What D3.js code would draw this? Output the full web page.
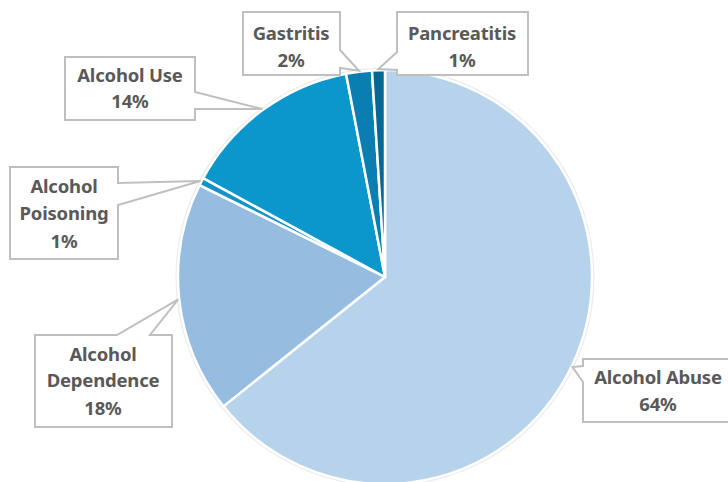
<!DOCTYPE html>
<html>
<head>
<meta charset="utf-8">
<script src="https://cdn.jsdelivr.net/npm/d3@7"></script>
<style>
  body { margin: 0; background: #fff; }
  text { font-family: "Noto Sans", sans-serif; font-weight: bold; fill: #595959; }
</style>
</head>
<body>
<div class="canvas"></div>
<script>
// slices clockwise from 12 o'clock
const categories = ["Alcohol Abuse", "Alcohol Dependence", "Alcohol Poisoning", "Alcohol Use", "Gastritis", "Pancreatitis"];
const values = [64, 18, 0.6, 14, 2, 1];
const colors = ["#b6d3eb", "#96bde0", "#1392c6", "#0b97cb", "#0a7eb0", "#086892"];
const labelLines = [["Alcohol Abuse"], ["Alcohol", "Dependence"], ["Alcohol", "Poisoning"], ["Alcohol Use"], ["Gastritis"], ["Pancreatitis"]];

let dim = { width: 728, height: 482 };
let svg = d3.select(".canvas").append("svg").attr("width", dim.width).attr("height", dim.height);

const cx = 385, cy = 277, r = 207;
let graph = svg.append("g").attr("transform", `translate(${cx},${cy})`);

const total = d3.sum(values);
const data = categories.map((c, i) => ({ name: c, value: values[i], color: colors[i], lines: labelLines[i] }));

const pie = d3.pie().value(d => d.value).sort(null);
const arc = d3.arc().innerRadius(0).outerRadius(r);
const arcs = pie(data);

// faint halo around the pie
graph.append("circle").attr("r", r + 1.5).attr("fill", "none").attr("stroke", "#ececec").attr("stroke-width", 2);

graph.selectAll(".slice").data(arcs).enter().append("path")
  .attr("class", "slice")
  .attr("d", arc)
  .attr("fill", d => d.data.color)
  .attr("stroke", "#fff")
  .attr("stroke-width", 2.5)
  .attr("stroke-linejoin", "round");

// callout boxes: [x, y, w, h], side the pointer leaves from, pointer base span
const boxes = [
  { box: [583, 359, 152, 63], side: "left", span: [366, 382], tx: 658, base: [384, 411] },
  { box: [35, 335, 137, 92], side: "top", span: [117, 150], tx: 103, base: [361, 387, 415] },
  { box: [10, 167, 108, 92], side: "right", span: [183, 205], tx: 64, base: [193, 220, 248] },
  { box: [65, 57, 130, 63], side: "right", span: [92, 109], tx: 130, base: [82, 108] },
  { box: [243, 12, 97, 63], side: "right", span: [50, 68], tx: 291, base: [40, 67] },
  { box: [397, 12, 131, 63], side: "left", span: [52, 70], tx: 462, base: [40, 67] }
];

const calloutPath = (b, tip) => {
  const [x, y, w, h] = b.box, [a, c] = b.span;
  let pts;
  switch (b.side) {
    case "top": pts = [[x, y], [a, y], tip, [c, y], [x + w, y], [x + w, y + h], [x, y + h]]; break;
    case "right": pts = [[x, y], [x + w, y], [x + w, a], tip, [x + w, c], [x + w, y + h], [x, y + h]]; break;
    case "left": pts = [[x, y], [x + w, y], [x + w, y + h], [x, y + h], [x, c], tip, [x, a]]; break;
    default: pts = [[x, y], [x + w, y], [x + w, y + h], [x, y + h]];
  }
  return "M" + pts.map(p => p.join(",")).join("L") + "Z";
};

const labels = svg.append("g");
arcs.forEach((d, i) => {
  const b = boxes[i];
  const mid = (d.startAngle + d.endAngle) / 2;
  const tip = [cx + Math.sin(mid) * (r + 1), cy - Math.cos(mid) * (r + 1)];
  labels.append("path")
    .attr("d", calloutPath(b, tip))
    .attr("fill", "#fff")
    .attr("stroke", "#bfbfbf")
    .attr("stroke-width", 2)
    .attr("stroke-linejoin", "miter");
  const pct = Math.round(d.data.value / total * 100) + "%";
  const lines = d.data.lines.concat([pct]);
  lines.forEach((t, j) => {
    labels.append("text")
      .attr("x", b.tx)
      .attr("y", b.base[j])
      .attr("text-anchor", "middle")
      .attr("font-size", 18.5)
      .attr("letter-spacing", -0.2)
      .text(t);
  });
});
</script>
</body>
</html>
